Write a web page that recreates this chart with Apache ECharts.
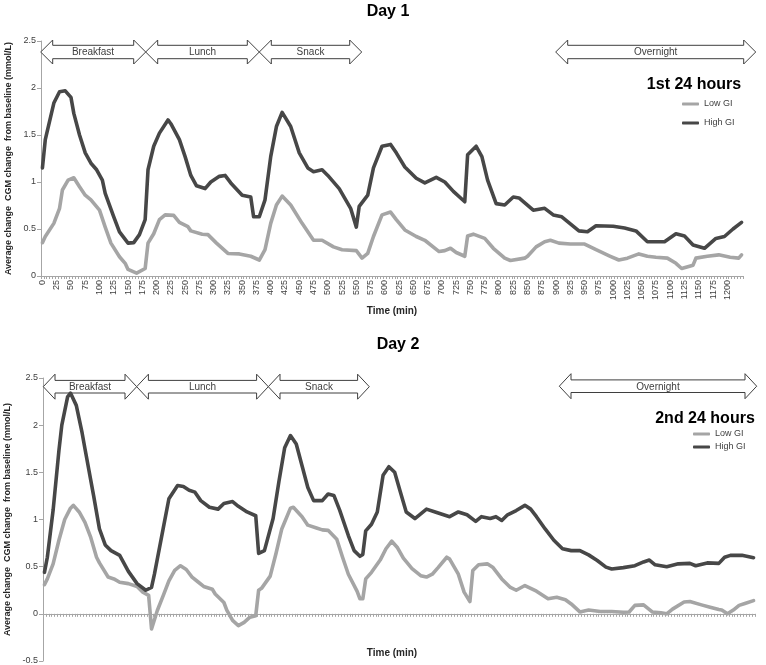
<!DOCTYPE html>
<html>
<head>
<meta charset="utf-8">
<script src="https://cdn.jsdelivr.net/npm/echarts@6/dist/echarts.min.js"></script>
<style>
html,body{margin:0;padding:0;background:#fff;}
#chart{width:766px;height:665px;}
</style>
</head>
<body>
<div id="chart"></div>
<script>
// ---------- data ----------
// time categories (min), one per 5-minute sample
const timeCategories = [];
for (let t = 0; t <= 1225; t += 5) timeCategories.push(String(t));

const seriesNames = ['Low GI', 'High GI'];
const panelTitles = ['Day 1', 'Day 2'];
const panelSubtitles = ['1st 24 hours', '2nd 24 hours'];
const mealLabels = ['Breakfast', 'Lunch', 'Snack', 'Overnight'];
const yAxisName = 'Average change  CGM change  from baseline (mmol/L)';
const xAxisName = 'Time (min)';

// Day 1 – High GI
const day1HighTime = [0,5,20,30,40,50,55,65,75,85,95,105,110,125,135,150,160,170,180,185,195,205,220,225,240,250,260,270,285,295,310,320,330,350,365,370,380,390,400,410,420,435,450,465,475,490,500,520,540,550,555,570,580,595,610,620,635,655,670,690,705,720,740,745,760,770,780,795,810,825,835,860,880,895,910,940,955,970,1000,1020,1040,1060,1090,1110,1125,1140,1160,1180,1195,1210,1225];
const day1HighValue = [1.15,1.45,1.84,1.96,1.97,1.90,1.73,1.50,1.31,1.20,1.13,1.02,0.88,0.63,0.47,0.35,0.355,0.44,0.60,1.13,1.38,1.52,1.66,1.62,1.45,1.27,1.07,0.96,0.93,1.00,1.06,1.07,0.99,0.86,0.84,0.63,0.63,0.81,1.27,1.59,1.74,1.59,1.31,1.15,1.11,1.13,1.07,0.93,0.72,0.52,0.74,0.86,1.15,1.38,1.40,1.31,1.16,1.04,0.99,1.05,1.00,0.90,0.79,1.29,1.38,1.27,1.02,0.77,0.755,0.84,0.83,0.70,0.72,0.65,0.63,0.48,0.47,0.535,0.53,0.51,0.48,0.365,0.365,0.45,0.425,0.33,0.295,0.40,0.42,0.50,0.57];

// Day 1 – Low GI
const day1LowTime = [0,5,20,30,35,45,55,65,75,85,100,110,120,135,145,150,165,180,185,195,205,215,230,240,255,260,280,290,305,325,345,365,380,390,400,410,420,435,455,475,490,510,525,550,560,570,580,595,610,620,635,655,670,695,705,715,725,740,745,755,775,790,810,820,845,850,865,880,890,905,925,950,970,995,1010,1025,1045,1060,1075,1095,1110,1120,1140,1145,1165,1185,1205,1220,1225];
const day1LowValue = [0.355,0.42,0.56,0.72,0.915,1.02,1.045,0.95,0.86,0.81,0.70,0.52,0.35,0.205,0.135,0.07,0.03,0.08,0.35,0.45,0.60,0.65,0.645,0.57,0.525,0.48,0.445,0.44,0.35,0.24,0.235,0.21,0.17,0.28,0.56,0.755,0.85,0.755,0.56,0.38,0.38,0.31,0.28,0.27,0.19,0.24,0.42,0.65,0.68,0.60,0.49,0.42,0.38,0.26,0.27,0.295,0.25,0.21,0.425,0.445,0.40,0.295,0.19,0.165,0.19,0.21,0.31,0.365,0.38,0.35,0.34,0.34,0.28,0.21,0.17,0.19,0.235,0.21,0.20,0.19,0.135,0.08,0.115,0.19,0.21,0.225,0.20,0.19,0.225];

// Day 2 – High GI
const day2HighTime = [0,5,15,25,30,40,45,55,65,70,85,95,105,115,130,145,160,175,185,190,205,215,230,240,250,260,270,285,300,310,325,335,350,365,370,380,395,405,415,425,435,445,455,465,480,490,500,510,525,535,545,550,555,565,575,585,595,605,615,625,640,660,675,700,715,730,745,755,770,780,790,800,815,830,840,850,865,880,895,910,925,940,955,970,980,1000,1020,1035,1045,1055,1075,1095,1115,1125,1145,1165,1175,1185,1205,1225];
const day2HighValue = [0.44,0.60,1.10,1.73,2.00,2.30,2.34,2.21,1.92,1.75,1.25,0.90,0.73,0.67,0.62,0.45,0.32,0.25,0.28,0.42,0.90,1.22,1.36,1.35,1.31,1.29,1.20,1.13,1.11,1.17,1.19,1.14,1.08,1.04,0.64,0.67,1.01,1.40,1.76,1.89,1.80,1.57,1.34,1.20,1.20,1.27,1.255,1.10,0.83,0.67,0.61,0.63,0.88,0.95,1.08,1.47,1.56,1.50,1.29,1.08,1.01,1.11,1.08,1.03,1.08,1.05,0.98,1.03,1.01,1.03,0.99,1.05,1.095,1.15,1.11,1.03,0.90,0.78,0.69,0.67,0.67,0.625,0.565,0.495,0.475,0.49,0.51,0.55,0.57,0.52,0.50,0.53,0.535,0.51,0.54,0.535,0.60,0.62,0.62,0.595];

// Day 2 – Low GI
const day2LowTime = [0,5,15,25,35,45,50,60,70,80,90,95,110,120,130,145,160,170,180,185,195,205,215,225,235,245,255,265,275,290,295,310,315,325,335,345,355,365,370,375,390,400,410,425,430,445,455,470,480,490,505,515,525,540,545,550,555,565,580,590,600,610,620,635,650,660,670,680,695,700,715,725,735,740,750,765,775,790,805,815,830,850,870,885,900,910,925,940,960,980,1000,1010,1020,1035,1050,1065,1075,1085,1105,1115,1135,1150,1165,1170,1180,1190,1200,1210,1225];
const day2LowValue = [0.31,0.37,0.53,0.78,1.00,1.12,1.15,1.08,0.97,0.81,0.60,0.54,0.39,0.37,0.335,0.32,0.29,0.23,0.195,-0.16,0.035,0.19,0.35,0.46,0.51,0.47,0.39,0.34,0.29,0.26,0.21,0.12,0.04,-0.07,-0.125,-0.09,-0.035,-0.02,0.25,0.27,0.40,0.64,0.90,1.12,1.13,1.03,0.94,0.91,0.89,0.885,0.79,0.60,0.42,0.24,0.16,0.16,0.37,0.44,0.57,0.69,0.77,0.70,0.59,0.48,0.405,0.39,0.42,0.49,0.60,0.58,0.42,0.23,0.13,0.46,0.52,0.53,0.49,0.37,0.28,0.25,0.30,0.24,0.16,0.175,0.15,0.105,0.02,0.04,0.025,0.025,0.017,0.02,0.09,0.095,0.02,0.01,0.0,0.05,0.125,0.13,0.095,0.07,0.045,0.04,0.0,0.04,0.09,0.11,0.14];

// ---------- styling ----------
const FONT = 'Liberation Sans, Arial, sans-serif';
const LOW_COLOR = '#a5a5a5';
const HIGH_COLOR = '#474747';
const AXIS_COLOR = '#a6a6a6';
const TEXT_COLOR = '#404040';

function pairs(times, values) {
  return times.map((t, i) => [String(t), values[i]]);
}

function xAxisCfg(gridIndex) {
  return {
    type: 'category', gridIndex: gridIndex, data: timeCategories, boundaryGap: true,
    axisLine: {onZero: true, lineStyle: {color: AXIS_COLOR, width: 1}},
    axisTick: {show: true, interval: 0, length: 3, lineStyle: {color: AXIS_COLOR}},
    axisLabel: {
      interval: function (idx, val) { const n = Number(val); return n % 25 === 0 && n <= 1200; },
      rotate: 90, fontSize: 9, color: TEXT_COLOR, margin: 4, fontFamily: FONT
    },
    splitLine: {show: false}
  };
}

function yAxisCfg(gridIndex, min, nameGap) {
  return {
    type: 'value', gridIndex: gridIndex, min: min, max: 2.5, interval: 0.5,
    name: yAxisName, nameLocation: 'middle', nameGap: nameGap, nameRotate: 90,
    nameTextStyle: {fontFamily: FONT, fontWeight: 'bold', fontSize: 9, color: '#262626'},
    axisLine: {show: true, lineStyle: {color: AXIS_COLOR, width: 1}},
    axisTick: {show: true, length: 4, lineStyle: {color: AXIS_COLOR}},
    axisLabel: {fontSize: 9, color: TEXT_COLOR, margin: 5, fontFamily: FONT},
    splitLine: {show: false}
  };
}

function lineSeries(name, color, xi, data) {
  return {
    type: 'line', name: name, xAxisIndex: xi, yAxisIndex: xi, data: data,
    showSymbol: false, symbol: 'none', smooth: false, z: 5,
    lineStyle: {color: color, width: 3.6, cap: 'round', join: 'round'},
    itemStyle: {color: color}
  };
}

// double-headed arrow annotation shape
function doubleArrow(x0, x1, cy, headHalf, shaftHalf, headLen) {
  return {
    type: 'polygon', z: 1,
    shape: {points: [
      [x0, cy], [x0 + headLen, cy - headHalf], [x0 + headLen, cy - shaftHalf],
      [x1 - headLen, cy - shaftHalf], [x1 - headLen, cy - headHalf], [x1, cy],
      [x1 - headLen, cy + headHalf], [x1 - headLen, cy + shaftHalf],
      [x0 + headLen, cy + shaftHalf], [x0 + headLen, cy + headHalf]
    ]},
    style: {fill: '#ffffff', stroke: '#3f3f3f', lineWidth: 1}
  };
}
function label(text, x, y, font, color) {
  return {type: 'text', z: 3, x: x, y: y,
    style: {text: text, font: font, fill: color || TEXT_COLOR, align: 'center', verticalAlign: 'middle'}};
}

const arrowFont = '10px ' + FONT;
const graphics = [
  // Day 1 arrows
  doubleArrow(40.7, 145.7, 52, 12, 6.7, 12),
  doubleArrow(145.7, 259.3, 52, 12, 6.7, 12),
  doubleArrow(259.3, 361.7, 52, 12, 6.7, 12),
  doubleArrow(555.7, 755.7, 52, 12, 6.7, 12),
  label(mealLabels[0], 93, 52.5, arrowFont),
  label(mealLabels[1], 202.5, 52.5, arrowFont),
  label(mealLabels[2], 310.5, 52.5, arrowFont),
  label(mealLabels[3], 655.7, 52.5, arrowFont),
  // Day 2 arrows
  doubleArrow(43.3, 136.7, 386.7, 12.5, 6.3, 11.7),
  doubleArrow(136.7, 268.3, 386.7, 12.5, 6.3, 11.7),
  doubleArrow(268.3, 369.3, 386.7, 12.5, 6.3, 11.7),
  doubleArrow(559.3, 756.7, 386.2, 12.5, 6.3, 11.7),
  label(mealLabels[0], 90, 387, arrowFont),
  label(mealLabels[1], 202.5, 387, arrowFont),
  label(mealLabels[2], 319, 387, arrowFont),
  label(mealLabels[3], 658, 387, arrowFont),
  // panel titles
  label(panelTitles[0], 388, 12, 'bold 16px ' + FONT, '#000000'),
  label(panelTitles[1], 398, 345, 'bold 16px ' + FONT, '#000000'),
  label(panelSubtitles[0], 694, 85, 'bold 16px ' + FONT, '#000000'),
  label(panelSubtitles[1], 705, 419, 'bold 16px ' + FONT, '#000000'),
  // x-axis names
  label(xAxisName, 392, 311.5, 'bold 10px ' + FONT, '#262626'),
  label(xAxisName, 392, 653.5, 'bold 10px ' + FONT, '#262626')
];

const legendCommon = {
  orient: 'vertical', data: seriesNames, icon: 'roundRect', itemWidth: 17, itemHeight: 3,
  padding: 0, selectedMode: false,
  textStyle: {fontFamily: FONT, fontSize: 9, color: TEXT_COLOR, lineHeight: 10}
};

const chart = echarts.init(document.getElementById('chart'), null, {renderer: 'canvas'});
chart.setOption({
  animation: false,
  backgroundColor: '#ffffff',
  grid: [
    {left: 41, top: 41, width: 702, height: 235, outerBoundsMode: 'none', containLabel: false},
    {left: 43, top: 378, width: 712, height: 283, outerBoundsMode: 'none', containLabel: false}
  ],
  xAxis: [xAxisCfg(0), xAxisCfg(1)],
  yAxis: [yAxisCfg(0, 0, 28), yAxisCfg(1, -0.5, 30)],
  legend: [
    Object.assign({}, legendCommon, {left: 682, top: 99, itemGap: 9}),
    Object.assign({}, legendCommon, {left: 693, top: 429, itemGap: 3})
  ],
  series: [
    lineSeries(seriesNames[0], LOW_COLOR, 0, pairs(day1LowTime, day1LowValue)),
    lineSeries(seriesNames[1], HIGH_COLOR, 0, pairs(day1HighTime, day1HighValue)),
    lineSeries(seriesNames[0], LOW_COLOR, 1, pairs(day2LowTime, day2LowValue)),
    lineSeries(seriesNames[1], HIGH_COLOR, 1, pairs(day2HighTime, day2HighValue))
  ],
  graphic: graphics
});
</script>
</body>
</html>
